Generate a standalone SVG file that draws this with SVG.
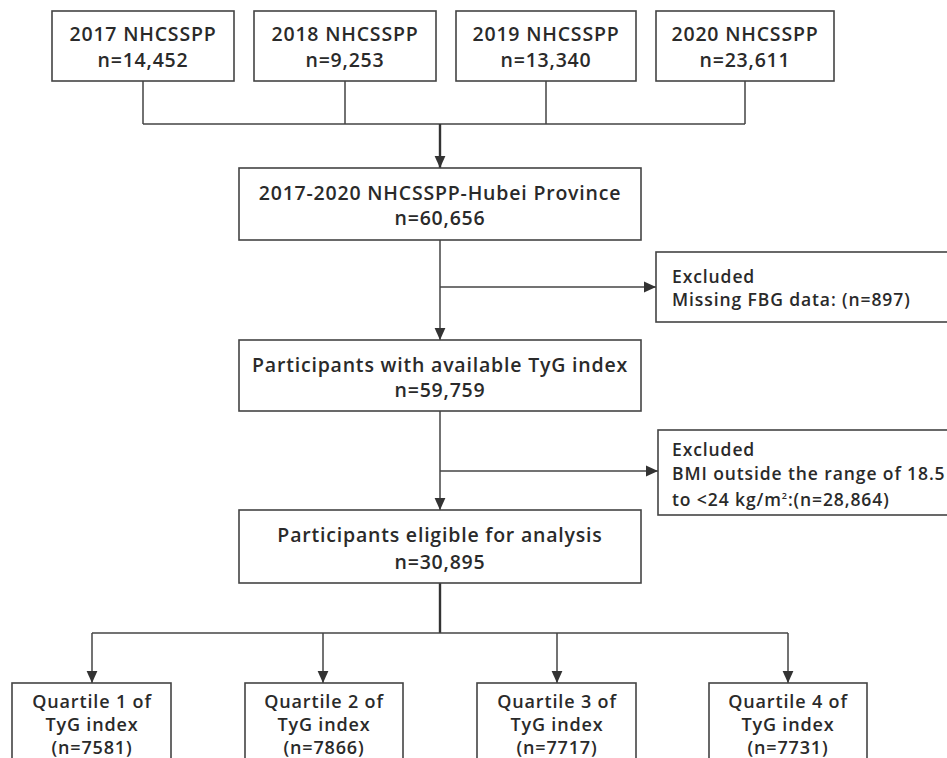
<svg xmlns="http://www.w3.org/2000/svg" width="947" height="758" viewBox="0 0 947 758">
<defs>
<style>
.box{fill:#fff;stroke:#444;stroke-width:1.6}
.t{font-family:"Open Sans","Noto Sans",sans-serif;font-weight:600;fill:#2a2a2a;text-anchor:middle}
.t20{font-size:19.5px;letter-spacing:0.8px}
.t17{font-size:17.5px;letter-spacing:0.9px;text-anchor:start}
.t18{font-size:18px;letter-spacing:0.85px}
.ln{fill:none;stroke:#444;stroke-width:1.5}
.lnb{fill:none;stroke:#333;stroke-width:2.4}
</style>
<marker id="ahs" viewBox="0 0 10 10" refX="10" refY="5" markerWidth="14" markerHeight="12" markerUnits="userSpaceOnUse" orient="auto">
<path d="M0,0.5 L10,5 L0,9.5 Z" fill="#333"/>
</marker>
</defs>
<rect width="947" height="758" fill="#fff"/>
<g id="connectors">
<path class="ln" d="M143,81 V124 M345,81 V124 M546,81 V124 M745,81 V124 M143,124 H745"/>
<path class="lnb" d="M440,124 V168" marker-end="url(#ahs)"/>
<path class="ln" d="M440,240 V340" marker-end="url(#ahs)"/>
<path class="ln" d="M440,287 H656" marker-end="url(#ahs)"/>
<path class="ln" d="M440,411 V510" marker-end="url(#ahs)"/>
<path class="ln" d="M440,471 H658" marker-end="url(#ahs)"/>
<path class="lnb" d="M440,583 V633"/>
<path class="ln" d="M92,633 H788"/>
<path class="ln" d="M92,633 V683" marker-end="url(#ahs)"/>
<path class="ln" d="M323,633 V683" marker-end="url(#ahs)"/>
<path class="ln" d="M557,633 V683" marker-end="url(#ahs)"/>
<path class="ln" d="M788,633 V683" marker-end="url(#ahs)"/>
</g>
<g id="n2017">
<rect class="box" x="52" y="11" width="182" height="70"/>
<text class="t t20" x="143" y="41">2017 NHCSSPP</text>
<text class="t t20" x="143" y="67">n=14,452</text>
</g>
<g id="n2018">
<rect class="box" x="254" y="11" width="182" height="70"/>
<text class="t t20" x="345" y="41">2018 NHCSSPP</text>
<text class="t t20" x="345" y="67">n=9,253</text>
</g>
<g id="n2019">
<rect class="box" x="456" y="11" width="180" height="70"/>
<text class="t t20" x="546" y="41">2019 NHCSSPP</text>
<text class="t t20" x="546" y="67">n=13,340</text>
</g>
<g id="n2020">
<rect class="box" x="656" y="11" width="178" height="70"/>
<text class="t t20" x="745" y="41">2020 NHCSSPP</text>
<text class="t t20" x="745" y="67">n=23,611</text>
</g>
<g id="hubei">
<rect class="box" x="239" y="168" width="402" height="72"/>
<text class="t t20" x="440" y="200">2017-2020 NHCSSPP-Hubei Province</text>
<text class="t t20" x="440" y="225">n=60,656</text>
</g>
<g id="excl1">
<rect class="box" x="656" y="252" width="300" height="70"/>
<text class="t t17" x="672" y="283">Excluded</text>
<text class="t t17" x="672" y="306">Missing FBG data: (n=897)</text>
</g>
<g id="tyg">
<rect class="box" x="239" y="340" width="402" height="71"/>
<text class="t t20" x="440" y="372">Participants with available TyG index</text>
<text class="t t20" x="440" y="397">n=59,759</text>
</g>
<g id="excl2">
<rect class="box" x="658" y="430" width="300" height="85"/>
<text class="t t17" x="672" y="456">Excluded</text>
<text class="t t17" x="672" y="480">BMI outside the range of 18.5</text>
<text class="t t17" x="672" y="506">to &lt;24 kg/m<tspan font-size="9" dy="-7">2</tspan><tspan dy="7">:(n=28,864)</tspan></text>
</g>
<g id="eligible">
<rect class="box" x="239" y="510" width="402" height="73"/>
<text class="t t20" x="440" y="542">Participants eligible for analysis</text>
<text class="t t20" x="440" y="569">n=30,895</text>
</g>
<g id="q1">
<rect class="box" x="12" y="683" width="159" height="90"/>
<text class="t t18" x="92" y="708">Quartile 1 of</text>
<text class="t t18" x="92" y="731">TyG index</text>
<text class="t t18" x="92" y="754">(n=7581)</text>
</g>
<g id="q2">
<rect class="box" x="245" y="683" width="158" height="90"/>
<text class="t t18" x="324" y="708">Quartile 2 of</text>
<text class="t t18" x="324" y="731">TyG index</text>
<text class="t t18" x="324" y="754">(n=7866)</text>
</g>
<g id="q3">
<rect class="box" x="477" y="683" width="159" height="90"/>
<text class="t t18" x="557" y="708">Quartile 3 of</text>
<text class="t t18" x="557" y="731">TyG index</text>
<text class="t t18" x="557" y="754">(n=7717)</text>
</g>
<g id="q4">
<rect class="box" x="709" y="683" width="158" height="90"/>
<text class="t t18" x="788" y="708">Quartile 4 of</text>
<text class="t t18" x="788" y="731">TyG index</text>
<text class="t t18" x="788" y="754">(n=7731)</text>
</g>
</svg>
